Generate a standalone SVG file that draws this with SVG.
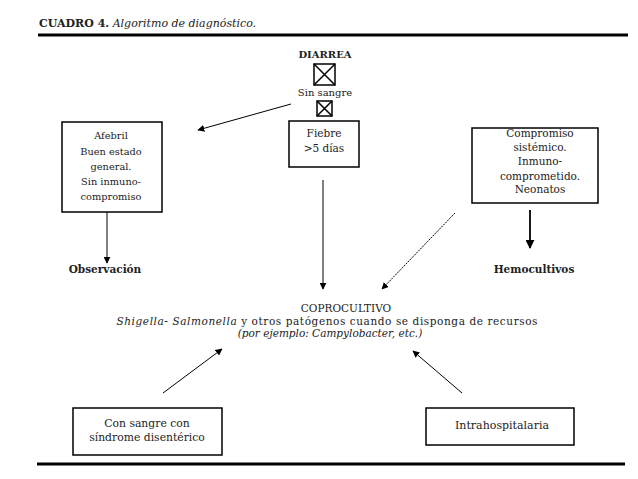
<svg xmlns="http://www.w3.org/2000/svg" width="638" height="479" viewBox="0 0 638 479">
<defs>
<marker id="ah" viewBox="0 0 10 10" refX="9" refY="5" markerWidth="7" markerHeight="7" markerUnits="userSpaceOnUse" orient="auto"><path d="M0,0 L10,5 L0,10 z" fill="#000"/></marker>
<marker id="ahb" viewBox="0 0 10 10" refX="9" refY="5" markerWidth="9" markerHeight="9" markerUnits="userSpaceOnUse" orient="auto"><path d="M0,0 L10,5 L0,10 z" fill="#000"/></marker>
</defs>
<style>
text{font-family:"DejaVu Serif","Liberation Serif",serif;font-size:10.5px;fill:#222}
.c{text-anchor:middle}
.b{font-weight:bold}
.i{font-style:italic}
.box{fill:#fff;stroke:#000;stroke-width:1.5}
.ln{stroke:#000;stroke-width:1;fill:none}
</style>
<rect width="638" height="479" fill="#fff"/>
<g id="header">
<text x="39" y="27" style="font-size:11px"><tspan class="b">CUADRO 4.</tspan> <tspan class="i">Algoritmo de diagnóstico.</tspan></text>
<line x1="38" y1="35" x2="628" y2="35" stroke="#000" stroke-width="3"/>
</g>
<g id="diarrea">
<text x="325" y="58" class="c b" style="font-size:10px">DIARREA</text>
<rect x="314" y="64" width="21" height="21" fill="none" stroke="#000" stroke-width="1.5"/>
<path d="M314,64 L335,85 M335,64 L314,85" stroke="#000" stroke-width="1.5"/>
<text x="325" y="96" class="c" style="font-size:10px">Sin sangre</text>
<rect x="317" y="101" width="15" height="15" fill="none" stroke="#000" stroke-width="1.5"/>
<path d="M317,101 L332,116 M332,101 L317,116" stroke="#000" stroke-width="1.5"/>
</g>
<g id="afebril">
<rect x="62" y="122" width="100" height="90" class="box"/>
<text x="111" y="139" class="c" style="font-size:9.8px">Afebril</text>
<text x="111" y="155" class="c" style="font-size:9.8px">Buen estado</text>
<text x="111" y="170" class="c" style="font-size:9.8px">general.</text>
<text x="111" y="185" class="c" style="font-size:9.8px">Sin inmuno-</text>
<text x="111" y="200" class="c" style="font-size:9.8px">compromiso</text>
</g>
<g id="fiebre">
<rect x="289" y="121" width="70" height="46" class="box"/>
<text x="324" y="137" class="c">Fiebre</text>
<text x="324" y="152" class="c">&gt;5 días</text>
</g>
<g id="compromiso">
<rect x="472" y="128" width="126" height="75" class="box"/>
<text x="540" y="137" class="c">Compromiso</text>
<text x="540" y="151" class="c">sistémico.</text>
<text x="540" y="165" class="c">Inmuno-</text>
<text x="540" y="180" class="c">comprometido.</text>
<text x="540" y="193" class="c">Neonatos</text>
</g>
<g id="observacion">
<text x="105" y="273" class="c b">Observación</text>
</g>
<g id="hemocultivos">
<text x="534" y="273" class="c b">Hemocultivos</text>
</g>
<g id="coprocultivo">
<text x="346" y="312" class="c">COPROCULTIVO</text>
<text x="327" y="325" class="c" textLength="421" lengthAdjust="spacing"><tspan class="i">Shigella- Salmonella</tspan> y otros patógenos cuando se disponga de recursos</text>
<text x="330" y="337" class="c i">(por ejemplo: Campylobacter, etc.)</text>
</g>
<g id="consangre">
<rect x="73" y="408" width="149" height="47" class="box"/>
<text x="147" y="427" class="c" style="font-size:10.8px">Con sangre con</text>
<text x="147" y="441" class="c" style="font-size:10.8px">síndrome disentérico</text>
</g>
<g id="intrahospitalaria">
<rect x="426" y="408" width="148" height="37" class="box"/>
<text x="502" y="429" class="c" style="font-size:11px">Intrahospitalaria</text>
</g>
<g id="connectors">
<line x1="291" y1="104" x2="198" y2="130" class="ln" marker-end="url(#ah)"/>
<line x1="107" y1="212" x2="107" y2="263" class="ln" marker-end="url(#ah)"/>
<line x1="323" y1="180" x2="323" y2="289" class="ln" marker-end="url(#ah)"/>
<line x1="530" y1="210" x2="530" y2="248" stroke="#000" stroke-width="1.8" marker-end="url(#ahb)"/>
<line x1="455" y1="213" x2="382" y2="289" class="ln" stroke="#333" stroke-dasharray="2,1" marker-end="url(#ah)"/>
<line x1="163" y1="393" x2="222" y2="349" class="ln" marker-end="url(#ah)"/>
<line x1="462" y1="393" x2="413" y2="351" class="ln" marker-end="url(#ah)"/>
</g>
<g id="footer">
<line x1="37" y1="464" x2="625" y2="464" stroke="#000" stroke-width="3"/>
</g>
</svg>
